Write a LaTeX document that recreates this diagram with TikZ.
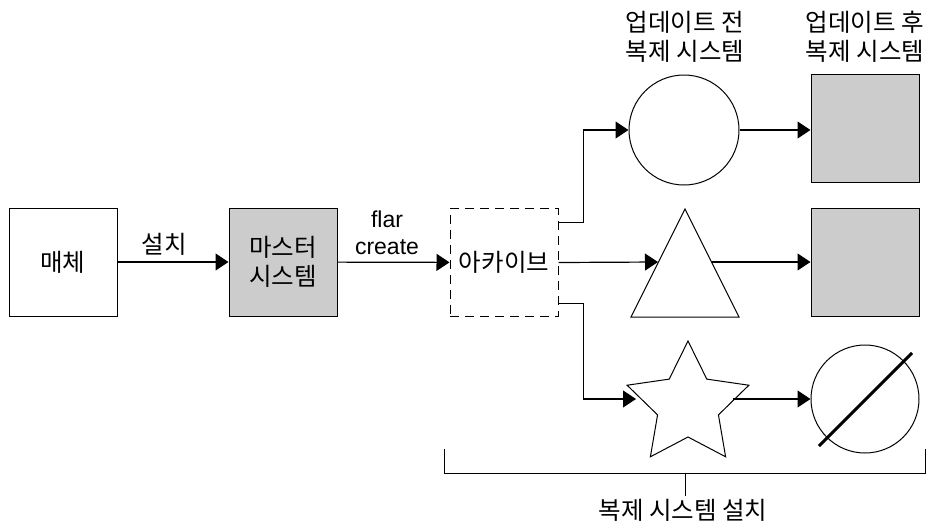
\documentclass[tikz,border=0pt]{standalone}
\usepackage{fontspec}
\setmainfont{Noto Sans CJK KR}
\newfontfamily\lat{Liberation Sans}
\usetikzlibrary{arrows.meta,shapes.geometric,calc}
\begin{document}
\begin{tikzpicture}[x=1pt,y=-1pt,
  font=\fontsize{24.5}{29}\selectfont,
  line width=1pt,
  arr/.style={-{Triangle[length=13pt,width=17pt]}, line width=1.2pt},
  box/.style={draw, minimum width=108pt, minimum height=108pt, inner sep=0pt, align=center},
  grayfill/.style={fill=black!20},
  lbl/.style={inner sep=0pt, align=center}]
\path[use as bounding box] (0,0) rectangle (930,523);
% main chain
\node[box] (media) at (63,262) {매체};
\node[box,grayfill] (master) at (283,262) {마스터\\시스템};
\node[box,dash pattern=on 9pt off 6pt] (arch) at (504,262.5) {아카이브};
\node[lbl] (lset) at (164,244) {설치};
\node[lbl,font=\lat\fontsize{23}{27}\selectfont] (lflar) at (387,233) {flar\\create};
\draw[arr] (media) -- (master);
\draw[arr] (master) -- (arch);
% replicas before update
\node[circle,draw,minimum size=110pt,inner sep=0pt] (c1) at (684,130) {};
\coordinate (tapex) at (685,209);
\draw (tapex) -- (739,317) -- (631,317) -- cycle;
\coordinate (tin) at (658,262);
\coordinate (tout) at (712,262);
\node[star,star points=5,star point ratio=2,draw,minimum size=128pt,inner sep=0pt] (star) at (688,405) {};
% replicas after update
\node[box,grayfill] (s1) at (865,128) {};
\node[box,grayfill] (s2) at (865,262) {};
\node[circle,draw,minimum size=108pt,inner sep=0pt] (c2) at (865,399) {};
\draw[line width=3pt] ($(c2.center)+(-46,47)$) -- ($(c2.center)+(47,-46)$);
% branches
\draw[arr] ([yshift=40pt]arch.east) -- ++(25,0) |- (c1.west);
\draw[arr] (arch.east) -- (tin);
\draw[arr] ([yshift=-41pt]arch.east) -- ++(25,0) |- ([xshift=-52pt,yshift=6pt]star.center);
\draw[arr] (c1.east) -- (s1.west |- c1.east);
\draw[arr] (tout) -- (s2.west);
\draw[arr] ([xshift=45pt,yshift=6pt]star.center) -- (c2.west);
% top labels
\node[lbl] (lbefore) at (685,37) {업데이트 전\\복제 시스템};
\node[lbl] (lafter) at (865,37) {업데이트 후\\복제 시스템};
% bracket
\coordinate (bl) at (444,449);
\coordinate (br) at (925,449);
\coordinate (bm) at (685,473);
\draw (bl) -- (bl |- bm) -- (br |- bm) -- (br);
\draw (bm) -- ++(0,23) coordinate (bt);
\node[lbl] (linstall) at (683,510) {복제 시스템 설치};
\end{tikzpicture}
\end{document}
